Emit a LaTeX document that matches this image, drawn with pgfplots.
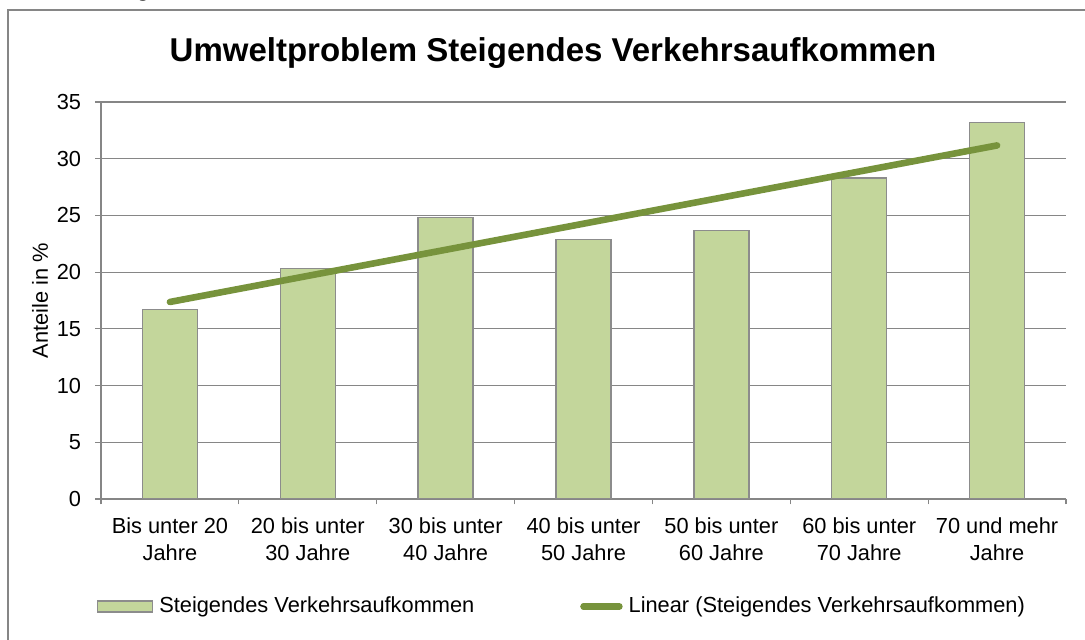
\documentclass[border=0pt]{standalone}
\usepackage{pgfplots}
\pgfplotsset{compat=1.18}
\usepackage{fontspec}
\setmainfont{Liberation Sans}
\definecolor{barfill}{RGB}{195,214,155}
\definecolor{bardraw}{RGB}{140,140,140}
\definecolor{trend}{RGB}{119,147,60}
\definecolor{gridc}{RGB}{134,134,134}
\newcommand{\fnt}{\fontsize{10.9}{13.5}\selectfont}
\begin{document}
\begin{tikzpicture}
\useasboundingbox (-50.5pt,-70.5pt) rectangle (492pt,249.5pt);
\begin{scope}
\clip (-50.5pt,-70.5pt) rectangle (492pt,249.5pt);
\node[anchor=base, font=\fontsize{11}{13}\selectfont\bfseries] at (21pt,251pt) {g};
\end{scope}
\draw[gridc, line width=0.7pt] (-46.5pt,-71pt) -- (-46.5pt,244.5pt) -- (493pt,244.5pt);
\node[anchor=base, inner sep=0pt, font=\fontsize{16.5}{20}\selectfont\bfseries] at (226pt,218.5pt) {Umweltproblem Steigendes Verkehrsaufkommen};
\begin{axis}[
  at={(0pt,0pt)}, anchor=south west,
  scale only axis, width=482.5pt, height=198.5pt,
  xmin=0.5, xmax=7.5, ymin=0, ymax=35,
  axis lines*=left,
  axis line style={gridc, line width=0.6pt, -},
  /pgf/number format/assume math mode=true,
  ytick={0,5,...,35},
  ymajorgrids, grid style={gridc, line width=0.6pt},
  tick align=outside,
  major tick length=2.75pt,
  tick style={gridc, line width=0.6pt},
  yticklabel style={font=\fnt, anchor=east, inner sep=0pt, xshift=-7pt},
  xtick={0.5,1.5,...,7.5},
  xticklabels={},
  extra x ticks={1,...,7},
  extra x tick labels={{Bis unter 20\\Jahre},{20 bis unter\\30 Jahre},{30 bis unter\\40 Jahre},{40 bis unter\\50 Jahre},{50 bis unter\\60 Jahre},{60 bis unter\\70 Jahre},{70 und mehr\\Jahre}},
  extra x tick style={grid=none, major tick length=0pt, tick style={draw=none},
    xticklabel style={font=\fnt, align=center, anchor=north, inner sep=0pt, yshift=-9pt}},
  every axis y label/.style={at={(axis description cs:-0.0632,0.5)}, rotate=90, anchor=center, font=\fnt},
  ylabel={Anteile in \%},
  legend columns=2,
  legend style={draw=none, fill=none, inner sep=0pt, outer sep=0pt, font=\fnt,
    at={(axis description cs:-0.00415,-0.2708)}, anchor=west,
    nodes={inner sep=0pt},
    /tikz/every odd column/.append style={column sep=3pt},
    /tikz/every even column/.append style={column sep=53pt}},
]
\addplot[ybar, bar width=27.5pt, fill=barfill, draw=bardraw, line width=0.65pt,
  legend image code/.code={\draw[fill=barfill, draw=bardraw, line width=0.65pt] (0pt,-2.75pt) rectangle (27.5pt,2.75pt);}]
  coordinates {(1,16.7) (2,20.3) (3,24.8) (4,22.9) (5,23.7) (6,28.3) (7,33.2)};
\addlegendentry{Steigendes Verkehrsaufkommen}
\addplot[trend, line width=3.3pt, line cap=round, mark=none,
  legend image code/.code={\path (0pt,0pt) -- (17.85pt,0pt); \draw[trend, line width=3.3pt, line cap=round] (0pt,0pt) -- (17pt,0pt);}]
  coordinates {(1,17.37) (7,31.17)};
\addlegendentry{Linear (Steigendes Verkehrsaufkommen)}
\end{axis}
\end{tikzpicture}
\end{document}
